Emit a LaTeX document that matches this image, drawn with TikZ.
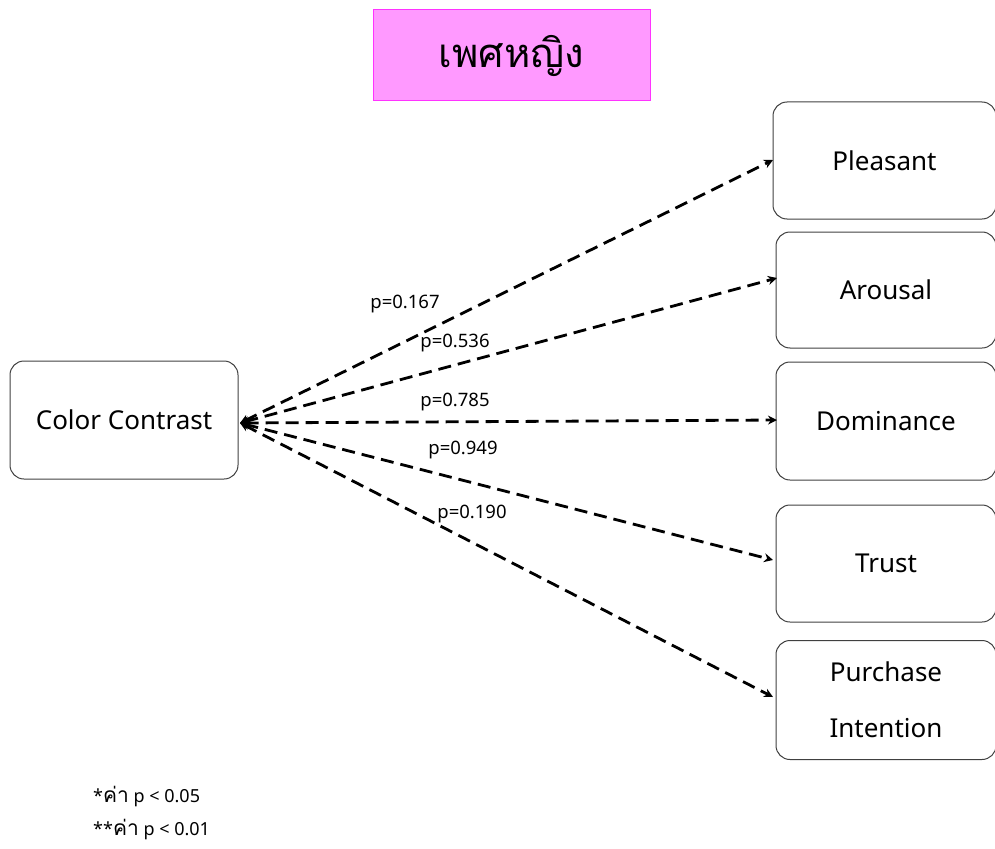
\documentclass[tikz,border=0pt]{standalone}
\usepackage{fontspec}
\setmainfont{Noto Sans}
\newfontfamily\thaifont[Script=Thai]{Loma}
\usetikzlibrary{arrows.meta}
\definecolor{titlefill}{HTML}{FF99FF}
\definecolor{titleline}{HTML}{FF33FF}
\begin{document}
\begin{tikzpicture}[x=1pt,y=-1pt,
  varbox/.style={draw=black!75,line width=1pt,rounded corners=14pt,inner sep=0pt,align=center,font=\fontsize{26}{30}\selectfont},
  link/.style={dashed,dash pattern=on 13pt off 7pt,line width=2.8pt,{Stealth[length=9pt,width=9pt]}-{Stealth[length=9pt,width=9pt]}},
  plabel/.style={font=\fontsize{18.5}{22}\selectfont,inner sep=0pt},
  note/.style={font=\fontsize{18}{21}\selectfont,anchor=west,inner sep=0pt}]
\useasboundingbox (0,0) rectangle (995,848);
\node[draw=titleline,fill=titlefill,line width=1pt,minimum width=277pt,minimum height=91pt,inner sep=0pt,font=\thaifont\fontsize{40}{48}\selectfont] (title) at (511.5,55.5) {เพศหญิง};
\node[varbox,minimum width=228pt,minimum height=118pt] (cc) at (124,420) {Color Contrast};
\node[varbox,minimum width=223pt,minimum height=117pt] (pl) at (884.5,160.5) {Pleasant};
\node[varbox,minimum width=220pt,minimum height=116pt] (ar) at (886,290) {Arousal};
\node[varbox,minimum width=220pt,minimum height=118pt] (do) at (886,421) {Dominance};
\node[varbox,minimum width=220pt,minimum height=117pt] (tr) at (886,563.5) {Trust};
\node[varbox,minimum width=220pt,minimum height=119pt,font=\fontsize{26}{56}\selectfont] (pi) at (886,700) {Purchase\\Intention};
\coordinate (ccend) at (240,423);
\coordinate (plend) at (773,160);
\coordinate (arend) at (777,278);
\coordinate (doend) at (777,420);
\coordinate (trend) at (773,560);
\coordinate (piend) at (773,697);
\draw[link] (ccend) -- (plend);
\draw[link] (ccend) -- (arend);
\draw[link] (ccend) -- (doend);
\draw[link] (ccend) -- (trend);
\draw[link] (ccend) -- (piend);
\node[plabel] (l1) at (405,304) {p=0.167};
\node[plabel] (l2) at (455,343) {p=0.536};
\node[plabel] (l3) at (455,402) {p=0.785};
\node[plabel] (l4) at (463,450) {p=0.949};
\node[plabel] (l5) at (472,514) {p=0.190};
\node[note] (n1) at (93,797) {*{\thaifont\fontsize{21}{21}\selectfont ค่า} p < 0.05};
\node[note] (n2) at (93,830) {**{\thaifont\fontsize{21}{21}\selectfont ค่า} p < 0.01};
\end{tikzpicture}
\end{document}
